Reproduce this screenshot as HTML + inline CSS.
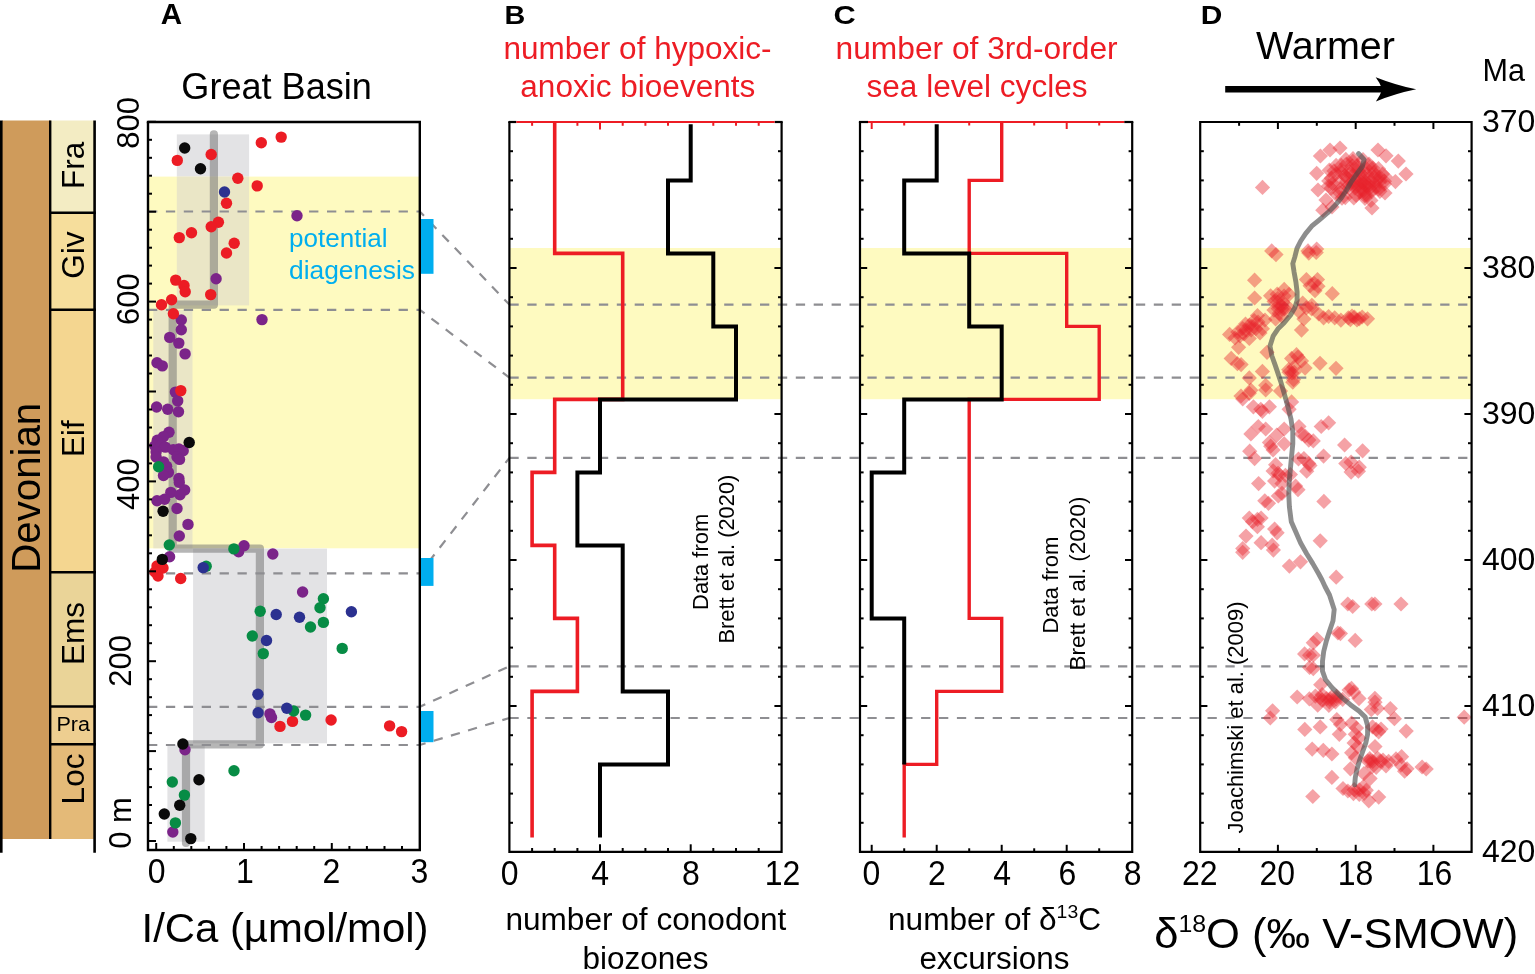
<!DOCTYPE html>
<html><head><meta charset="utf-8"><title>Figure</title>
<style>
html,body{margin:0;padding:0;background:#fff;}
body{width:1535px;height:974px;overflow:hidden;}
svg{display:block;font-family:'Liberation Sans', Arial, sans-serif;}
</style></head><body>
<svg width="1535" height="974" viewBox="0 0 1535 974">
<rect width="1535" height="974" fill="#fff"/>
<rect x="2" y="120.5" width="49" height="718.5" fill="#CF9B5B"/>
<rect x="50" y="120.5" width="44.5" height="92.2" fill="#F3ECC3"/>
<rect x="50" y="212.7" width="44.5" height="97.1" fill="#F6DE9C"/>
<rect x="50" y="309.8" width="44.5" height="262.5" fill="#F4D690"/>
<rect x="50" y="572.3" width="44.5" height="134.2" fill="#EAD498"/>
<rect x="50" y="706.5" width="44.5" height="37.8" fill="#EECE90"/>
<rect x="50" y="744.3" width="44.5" height="94.7" fill="#E4BA78"/>
<line x1="50" y1="212.7" x2="95.8" y2="212.7" stroke="#000" stroke-width="2.4"/>
<line x1="50" y1="309.8" x2="95.8" y2="309.8" stroke="#000" stroke-width="2.4"/>
<line x1="50" y1="572.3" x2="95.8" y2="572.3" stroke="#000" stroke-width="2.4"/>
<line x1="50" y1="706.5" x2="95.8" y2="706.5" stroke="#000" stroke-width="2.4"/>
<line x1="50" y1="744.3" x2="95.8" y2="744.3" stroke="#000" stroke-width="2.4"/>
<line x1="1.3" y1="120.5" x2="1.3" y2="852.8" stroke="#000" stroke-width="2.6"/>
<line x1="50.2" y1="120.5" x2="50.2" y2="839" stroke="#000" stroke-width="2.4"/>
<line x1="94.6" y1="120.5" x2="94.6" y2="852.8" stroke="#000" stroke-width="2.6"/>
<text transform="translate(83.8 165.3) rotate(-90)" font-size="31.5" text-anchor="middle">Fra</text>
<text transform="translate(83.8 255) rotate(-90)" font-size="31.5" text-anchor="middle">Giv</text>
<text transform="translate(83.8 438.7) rotate(-90)" font-size="31.5" text-anchor="middle">Eif</text>
<text transform="translate(83.8 633.4) rotate(-90)" font-size="31.5" text-anchor="middle">Ems</text>
<text transform="translate(83.8 779) rotate(-90)" font-size="31.5" text-anchor="middle">Loc</text>
<text x="73.2" y="731.3" font-size="19.5" text-anchor="middle" textLength="33.5" lengthAdjust="spacingAndGlyphs">Pra</text>
<text transform="translate(40.2 487.8) rotate(-90)" font-size="41.5" text-anchor="middle" textLength="170" lengthAdjust="spacingAndGlyphs">Devonian</text>
<text transform="translate(160.8 24.2) scale(1.02 1)" font-size="29" font-weight="bold">A</text>
<text transform="translate(504.6 24) scale(1.13 1)" font-size="25.5" font-weight="bold">B</text>
<text transform="translate(833.6 24) scale(1.16 1)" font-size="26.5" font-weight="bold">C</text>
<text transform="translate(1200.8 24.3) scale(1.15 1)" font-size="26" font-weight="bold">D</text>
<text x="276.6" y="98.9" font-size="36" text-anchor="middle" textLength="190.5" lengthAdjust="spacingAndGlyphs">Great Basin</text>
<text x="637.5" y="58.7" font-size="30.5" text-anchor="middle" fill="#ED1C24" textLength="268" lengthAdjust="spacingAndGlyphs">number of hypoxic-</text>
<text x="637.8" y="97.1" font-size="30.8" text-anchor="middle" fill="#ED1C24" textLength="235" lengthAdjust="spacingAndGlyphs">anoxic bioevents</text>
<text x="976.6" y="58.7" font-size="30.5" text-anchor="middle" fill="#ED1C24" textLength="282" lengthAdjust="spacingAndGlyphs">number of 3rd-order</text>
<text x="977" y="97.2" font-size="30.8" text-anchor="middle" fill="#ED1C24" textLength="221" lengthAdjust="spacingAndGlyphs">sea level cycles</text>
<text x="1325.5" y="58.9" font-size="38.5" text-anchor="middle" textLength="139" lengthAdjust="spacingAndGlyphs">Warmer</text>
<text x="1503.8" y="81" font-size="30.6" text-anchor="middle">Ma</text>
<line x1="1225.2" y1="89.2" x2="1392" y2="89.2" stroke="#000" stroke-width="6.5"/>
<path d="M1416.2 89.3 Q1396 85.2 1375.7 77.2 Q1380.5 83.5 1382.2 89.3 Q1380.5 95.2 1375.9 101.4 Q1396 93.4 1416.2 89.3 Z" fill="#000"/>
<rect x="148" y="176.6" width="271.8" height="371.7" fill="#FEFAC0"/>
<rect x="176.8" y="134.4" width="72.3" height="42.2" fill="#E3E3E5"/>
<rect x="176.8" y="176.6" width="72.3" height="128.8" fill="#EAE6C6"/>
<rect x="153.3" y="310" width="39.2" height="238.3" fill="#EAE6C6"/>
<rect x="193.1" y="548.6" width="133.9" height="194.7" fill="#E3E3E5"/>
<rect x="167.4" y="745.4" width="37.3" height="96.3" fill="#E3E3E5"/>
<path d="M213.9 134.4 V304.7 H172.7 V548.6 H259.9 V744.4 H186 V843" fill="none" stroke="#6E6E6E" stroke-opacity="0.5" stroke-width="8.2" stroke-linejoin="round" stroke-linecap="round"/>
<path d="M148 211.5 H419.8 L509.4 304.6" fill="none" stroke="#8E8E92" stroke-width="2.2" stroke-dasharray="9.3 8.6"/>
<path d="M148 309.8 H419.8 L509.4 377.7" fill="none" stroke="#8E8E92" stroke-width="2.2" stroke-dasharray="9.3 8.6"/>
<path d="M148 573.4 H419.8 L509.4 457.8" fill="none" stroke="#8E8E92" stroke-width="2.2" stroke-dasharray="9.3 8.6"/>
<path d="M148 706.8 H419.8 L509.4 666.3" fill="none" stroke="#8E8E92" stroke-width="2.2" stroke-dasharray="9.3 8.6"/>
<path d="M148 745 H419.8 L509.4 718" fill="none" stroke="#8E8E92" stroke-width="2.2" stroke-dasharray="9.3 8.6"/>
<rect x="421" y="219" width="12.5" height="54.8" fill="#00AEEF"/>
<rect x="421" y="558" width="12.5" height="27.9" fill="#00AEEF"/>
<rect x="421" y="711" width="12.5" height="31.2" fill="#00AEEF"/>
<text x="289" y="247.4" font-size="26.5" fill="#00AEEF" textLength="98.5" lengthAdjust="spacingAndGlyphs">potential</text>
<text x="289" y="279.1" font-size="26.5" fill="#00AEEF" textLength="126" lengthAdjust="spacingAndGlyphs">diagenesis</text>
<circle cx="297" cy="215.7" r="5.7" fill="#7B2489"/>
<circle cx="216.1" cy="278.7" r="5.7" fill="#7B2489"/>
<circle cx="181.3" cy="320" r="5.7" fill="#7B2489"/>
<circle cx="262" cy="319.6" r="5.7" fill="#7B2489"/>
<circle cx="181.3" cy="329.7" r="5.7" fill="#7B2489"/>
<circle cx="169.7" cy="337.4" r="5.7" fill="#7B2489"/>
<circle cx="178.8" cy="343.1" r="5.7" fill="#7B2489"/>
<circle cx="185.1" cy="353.9" r="5.7" fill="#7B2489"/>
<circle cx="157" cy="362.8" r="5.7" fill="#7B2489"/>
<circle cx="162.3" cy="365.9" r="5.7" fill="#7B2489"/>
<circle cx="175.4" cy="392.1" r="5.7" fill="#7B2489"/>
<circle cx="177.7" cy="400.9" r="5.7" fill="#7B2489"/>
<circle cx="156.6" cy="407" r="5.7" fill="#7B2489"/>
<circle cx="167.7" cy="409.3" r="5.7" fill="#7B2489"/>
<circle cx="178.5" cy="411.7" r="5.7" fill="#7B2489"/>
<circle cx="169" cy="432.3" r="5.7" fill="#7B2489"/>
<circle cx="163.5" cy="436.6" r="5.7" fill="#7B2489"/>
<circle cx="157.3" cy="440.3" r="5.7" fill="#7B2489"/>
<circle cx="154.9" cy="445.9" r="5.7" fill="#7B2489"/>
<circle cx="160.4" cy="445.9" r="5.7" fill="#7B2489"/>
<circle cx="165.3" cy="447.1" r="5.7" fill="#7B2489"/>
<circle cx="156.1" cy="452" r="5.7" fill="#7B2489"/>
<circle cx="156.1" cy="457" r="5.7" fill="#7B2489"/>
<circle cx="163.5" cy="461.9" r="5.7" fill="#7B2489"/>
<circle cx="166.6" cy="466.2" r="5.7" fill="#7B2489"/>
<circle cx="168.4" cy="472.4" r="5.7" fill="#7B2489"/>
<circle cx="163.5" cy="475.5" r="5.7" fill="#7B2489"/>
<circle cx="173.3" cy="449.6" r="5.7" fill="#7B2489"/>
<circle cx="178.9" cy="449" r="5.7" fill="#7B2489"/>
<circle cx="183.2" cy="450.8" r="5.7" fill="#7B2489"/>
<circle cx="177" cy="457" r="5.7" fill="#7B2489"/>
<circle cx="179.5" cy="459.4" r="5.7" fill="#7B2489"/>
<circle cx="178.9" cy="478.5" r="5.7" fill="#7B2489"/>
<circle cx="179.3" cy="482.4" r="5.7" fill="#7B2489"/>
<circle cx="184.7" cy="490" r="5.7" fill="#7B2489"/>
<circle cx="170.8" cy="492.4" r="5.7" fill="#7B2489"/>
<circle cx="180" cy="494.7" r="5.7" fill="#7B2489"/>
<circle cx="157" cy="500.8" r="5.7" fill="#7B2489"/>
<circle cx="164.6" cy="499.3" r="5.7" fill="#7B2489"/>
<circle cx="177" cy="508.5" r="5.7" fill="#7B2489"/>
<circle cx="188" cy="524.4" r="5.7" fill="#7B2489"/>
<circle cx="179.3" cy="536" r="5.7" fill="#7B2489"/>
<circle cx="169.6" cy="556.8" r="5.7" fill="#7B2489"/>
<circle cx="244" cy="545.8" r="5.7" fill="#7B2489"/>
<circle cx="238.6" cy="551.7" r="5.7" fill="#7B2489"/>
<circle cx="272.8" cy="554" r="5.7" fill="#7B2489"/>
<circle cx="302.6" cy="592" r="5.7" fill="#7B2489"/>
<circle cx="269.9" cy="713.9" r="5.7" fill="#7B2489"/>
<circle cx="271.5" cy="717.5" r="5.7" fill="#7B2489"/>
<circle cx="185" cy="749.7" r="5.7" fill="#7B2489"/>
<circle cx="172.8" cy="832" r="5.7" fill="#7B2489"/>
<circle cx="261.3" cy="142.8" r="5.7" fill="#EC1C24"/>
<circle cx="281.2" cy="137.1" r="5.7" fill="#EC1C24"/>
<circle cx="177.3" cy="160.4" r="5.7" fill="#EC1C24"/>
<circle cx="211.2" cy="154.5" r="5.7" fill="#EC1C24"/>
<circle cx="237.8" cy="178.2" r="5.7" fill="#EC1C24"/>
<circle cx="257.2" cy="185.9" r="5.7" fill="#EC1C24"/>
<circle cx="226.5" cy="203.3" r="5.7" fill="#EC1C24"/>
<circle cx="218.4" cy="222.3" r="5.7" fill="#EC1C24"/>
<circle cx="211.2" cy="226.8" r="5.7" fill="#EC1C24"/>
<circle cx="191.5" cy="232.7" r="5.7" fill="#EC1C24"/>
<circle cx="179.3" cy="237.6" r="5.7" fill="#EC1C24"/>
<circle cx="234.2" cy="243.3" r="5.7" fill="#EC1C24"/>
<circle cx="226.5" cy="253" r="5.7" fill="#EC1C24"/>
<circle cx="175.7" cy="280.1" r="5.7" fill="#EC1C24"/>
<circle cx="184" cy="285.5" r="5.7" fill="#EC1C24"/>
<circle cx="185.2" cy="291.8" r="5.7" fill="#EC1C24"/>
<circle cx="210.7" cy="294.6" r="5.7" fill="#EC1C24"/>
<circle cx="171.6" cy="299.7" r="5.7" fill="#EC1C24"/>
<circle cx="161.5" cy="304.7" r="5.7" fill="#EC1C24"/>
<circle cx="173.4" cy="313.7" r="5.7" fill="#EC1C24"/>
<circle cx="180.8" cy="390.6" r="5.7" fill="#EC1C24"/>
<circle cx="157" cy="566" r="5.7" fill="#EC1C24"/>
<circle cx="163" cy="568" r="5.7" fill="#EC1C24"/>
<circle cx="155" cy="572" r="5.7" fill="#EC1C24"/>
<circle cx="158" cy="576" r="5.7" fill="#EC1C24"/>
<circle cx="180.7" cy="578.5" r="5.7" fill="#EC1C24"/>
<circle cx="292.5" cy="721.4" r="5.7" fill="#EC1C24"/>
<circle cx="280" cy="726.4" r="5.7" fill="#EC1C24"/>
<circle cx="331.1" cy="720" r="5.7" fill="#EC1C24"/>
<circle cx="389.6" cy="725.9" r="5.7" fill="#EC1C24"/>
<circle cx="401.6" cy="731.6" r="5.7" fill="#EC1C24"/>
<circle cx="158.6" cy="466.8" r="5.7" fill="#078C45"/>
<circle cx="169.3" cy="545" r="5.7" fill="#078C45"/>
<circle cx="233.9" cy="548.9" r="5.7" fill="#078C45"/>
<circle cx="206.2" cy="566.3" r="5.7" fill="#078C45"/>
<circle cx="323.4" cy="598.7" r="5.7" fill="#078C45"/>
<circle cx="320" cy="607.8" r="5.7" fill="#078C45"/>
<circle cx="260.2" cy="611.2" r="5.7" fill="#078C45"/>
<circle cx="323.4" cy="622.4" r="5.7" fill="#078C45"/>
<circle cx="310.5" cy="627" r="5.7" fill="#078C45"/>
<circle cx="252.3" cy="636" r="5.7" fill="#078C45"/>
<circle cx="263.3" cy="653.6" r="5.7" fill="#078C45"/>
<circle cx="342.2" cy="648.4" r="5.7" fill="#078C45"/>
<circle cx="293.6" cy="711" r="5.7" fill="#078C45"/>
<circle cx="305.6" cy="715.1" r="5.7" fill="#078C45"/>
<circle cx="234" cy="770.8" r="5.7" fill="#078C45"/>
<circle cx="172.3" cy="782" r="5.7" fill="#078C45"/>
<circle cx="184.4" cy="795.1" r="5.7" fill="#078C45"/>
<circle cx="175.4" cy="822.9" r="5.7" fill="#078C45"/>
<circle cx="224.5" cy="192" r="5.7" fill="#2B3190"/>
<circle cx="203.2" cy="567.6" r="5.7" fill="#2B3190"/>
<circle cx="351.4" cy="611.8" r="5.7" fill="#2B3190"/>
<circle cx="276.2" cy="614.5" r="5.7" fill="#2B3190"/>
<circle cx="299.5" cy="617.3" r="5.7" fill="#2B3190"/>
<circle cx="266.5" cy="640.5" r="5.7" fill="#2B3190"/>
<circle cx="257.9" cy="694.3" r="5.7" fill="#2B3190"/>
<circle cx="258.1" cy="712.8" r="5.7" fill="#2B3190"/>
<circle cx="286.8" cy="708.3" r="5.7" fill="#2B3190"/>
<circle cx="184.7" cy="148" r="5.7" fill="#0A0A0A"/>
<circle cx="200.5" cy="168.7" r="5.7" fill="#0A0A0A"/>
<circle cx="189.2" cy="442.5" r="5.7" fill="#0A0A0A"/>
<circle cx="163.1" cy="511.2" r="5.7" fill="#0A0A0A"/>
<circle cx="162.3" cy="559.4" r="5.7" fill="#0A0A0A"/>
<circle cx="182.9" cy="744" r="5.7" fill="#0A0A0A"/>
<circle cx="199" cy="779.7" r="5.7" fill="#0A0A0A"/>
<circle cx="179.7" cy="805.2" r="5.7" fill="#0A0A0A"/>
<circle cx="164.3" cy="814" r="5.7" fill="#0A0A0A"/>
<circle cx="190.8" cy="838.6" r="5.7" fill="#0A0A0A"/>
<path d="M148 122 V850 H419.8 V122" fill="none" stroke="#000" stroke-width="2.4"/>
<line x1="146.8" y1="122" x2="421" y2="122" stroke="#000" stroke-width="2.4"/>
<line x1="148" y1="841" x2="156" y2="841" stroke="#000" stroke-width="2"/>
<line x1="148" y1="823" x2="152" y2="823" stroke="#000" stroke-width="2"/>
<line x1="148" y1="805" x2="152" y2="805" stroke="#000" stroke-width="2"/>
<line x1="148" y1="787.1" x2="152" y2="787.1" stroke="#000" stroke-width="2"/>
<line x1="148" y1="769.1" x2="152" y2="769.1" stroke="#000" stroke-width="2"/>
<line x1="148" y1="751.1" x2="156" y2="751.1" stroke="#000" stroke-width="2"/>
<line x1="148" y1="733.1" x2="152" y2="733.1" stroke="#000" stroke-width="2"/>
<line x1="148" y1="715.1" x2="152" y2="715.1" stroke="#000" stroke-width="2"/>
<line x1="148" y1="697.2" x2="152" y2="697.2" stroke="#000" stroke-width="2"/>
<line x1="148" y1="679.2" x2="152" y2="679.2" stroke="#000" stroke-width="2"/>
<line x1="148" y1="661.2" x2="156" y2="661.2" stroke="#000" stroke-width="2"/>
<line x1="148" y1="643.2" x2="152" y2="643.2" stroke="#000" stroke-width="2"/>
<line x1="148" y1="625.2" x2="152" y2="625.2" stroke="#000" stroke-width="2"/>
<line x1="148" y1="607.3" x2="152" y2="607.3" stroke="#000" stroke-width="2"/>
<line x1="148" y1="589.3" x2="152" y2="589.3" stroke="#000" stroke-width="2"/>
<line x1="148" y1="571.3" x2="156" y2="571.3" stroke="#000" stroke-width="2"/>
<line x1="148" y1="553.3" x2="152" y2="553.3" stroke="#000" stroke-width="2"/>
<line x1="148" y1="535.3" x2="152" y2="535.3" stroke="#000" stroke-width="2"/>
<line x1="148" y1="517.4" x2="152" y2="517.4" stroke="#000" stroke-width="2"/>
<line x1="148" y1="499.4" x2="152" y2="499.4" stroke="#000" stroke-width="2"/>
<line x1="148" y1="481.4" x2="156" y2="481.4" stroke="#000" stroke-width="2"/>
<line x1="148" y1="463.4" x2="152" y2="463.4" stroke="#000" stroke-width="2"/>
<line x1="148" y1="445.4" x2="152" y2="445.4" stroke="#000" stroke-width="2"/>
<line x1="148" y1="427.5" x2="152" y2="427.5" stroke="#000" stroke-width="2"/>
<line x1="148" y1="409.5" x2="152" y2="409.5" stroke="#000" stroke-width="2"/>
<line x1="148" y1="391.5" x2="156" y2="391.5" stroke="#000" stroke-width="2"/>
<line x1="148" y1="373.5" x2="152" y2="373.5" stroke="#000" stroke-width="2"/>
<line x1="148" y1="355.5" x2="152" y2="355.5" stroke="#000" stroke-width="2"/>
<line x1="148" y1="337.6" x2="152" y2="337.6" stroke="#000" stroke-width="2"/>
<line x1="148" y1="319.6" x2="152" y2="319.6" stroke="#000" stroke-width="2"/>
<line x1="148" y1="301.6" x2="156" y2="301.6" stroke="#000" stroke-width="2"/>
<line x1="148" y1="283.6" x2="152" y2="283.6" stroke="#000" stroke-width="2"/>
<line x1="148" y1="265.6" x2="152" y2="265.6" stroke="#000" stroke-width="2"/>
<line x1="148" y1="247.7" x2="152" y2="247.7" stroke="#000" stroke-width="2"/>
<line x1="148" y1="229.7" x2="152" y2="229.7" stroke="#000" stroke-width="2"/>
<line x1="148" y1="211.7" x2="156" y2="211.7" stroke="#000" stroke-width="2"/>
<line x1="148" y1="193.7" x2="152" y2="193.7" stroke="#000" stroke-width="2"/>
<line x1="148" y1="175.7" x2="152" y2="175.7" stroke="#000" stroke-width="2"/>
<line x1="148" y1="157.8" x2="152" y2="157.8" stroke="#000" stroke-width="2"/>
<line x1="148" y1="139.8" x2="152" y2="139.8" stroke="#000" stroke-width="2"/>
<line x1="148" y1="121.8" x2="156" y2="121.8" stroke="#000" stroke-width="2"/>
<line x1="156.2" y1="850" x2="156.2" y2="843" stroke="#000" stroke-width="2"/>
<line x1="173.8" y1="850" x2="173.8" y2="846" stroke="#000" stroke-width="2"/>
<line x1="191.3" y1="850" x2="191.3" y2="846" stroke="#000" stroke-width="2"/>
<line x1="208.9" y1="850" x2="208.9" y2="846" stroke="#000" stroke-width="2"/>
<line x1="226.4" y1="850" x2="226.4" y2="846" stroke="#000" stroke-width="2"/>
<line x1="244" y1="850" x2="244" y2="843" stroke="#000" stroke-width="2"/>
<line x1="261.6" y1="850" x2="261.6" y2="846" stroke="#000" stroke-width="2"/>
<line x1="279.1" y1="850" x2="279.1" y2="846" stroke="#000" stroke-width="2"/>
<line x1="296.7" y1="850" x2="296.7" y2="846" stroke="#000" stroke-width="2"/>
<line x1="314.2" y1="850" x2="314.2" y2="846" stroke="#000" stroke-width="2"/>
<line x1="331.8" y1="850" x2="331.8" y2="843" stroke="#000" stroke-width="2"/>
<line x1="349.4" y1="850" x2="349.4" y2="846" stroke="#000" stroke-width="2"/>
<line x1="366.9" y1="850" x2="366.9" y2="846" stroke="#000" stroke-width="2"/>
<line x1="384.5" y1="850" x2="384.5" y2="846" stroke="#000" stroke-width="2"/>
<line x1="402" y1="850" x2="402" y2="846" stroke="#000" stroke-width="2"/>
<text transform="translate(138.7 122.9) rotate(-90)" font-size="31" text-anchor="middle">800</text>
<text transform="translate(138.8 299.2) rotate(-90)" font-size="31" text-anchor="middle">600</text>
<text transform="translate(138.8 484.1) rotate(-90)" font-size="31" text-anchor="middle">400</text>
<text transform="translate(130.9 660.9) rotate(-90)" font-size="31" text-anchor="middle">200</text>
<text transform="translate(130.8 823) rotate(-90)" font-size="31" text-anchor="middle">0 m</text>
<text transform="translate(156.6 882.6) scale(1 1.08)" font-size="32" text-anchor="middle">0</text>
<text transform="translate(244.8 882.6) scale(1 1.08)" font-size="32" text-anchor="middle">1</text>
<text transform="translate(331.5 882.6) scale(1 1.08)" font-size="32" text-anchor="middle">2</text>
<text transform="translate(419.4 882.6) scale(1 1.08)" font-size="32" text-anchor="middle">3</text>
<text x="285" y="941.6" font-size="41.5" text-anchor="middle" textLength="287" lengthAdjust="spacingAndGlyphs">I/Ca (µmol/mol)</text>
<rect x="509.4" y="248" width="272.2" height="151.2" fill="#FEFAC0"/>
<rect x="860" y="248" width="272.2" height="151.2" fill="#FEFAC0"/>
<rect x="1200.2" y="248" width="271.4" height="151.2" fill="#FEFAC0"/>
<path d="M509.4 304.6 H1471.6" fill="none" stroke="#8E8E92" stroke-width="2.2" stroke-dasharray="9.3 8.6"/>
<path d="M509.4 377.7 H1471.6" fill="none" stroke="#8E8E92" stroke-width="2.2" stroke-dasharray="9.3 8.6"/>
<path d="M509.4 457.8 H1471.6" fill="none" stroke="#8E8E92" stroke-width="2.2" stroke-dasharray="9.3 8.6"/>
<path d="M509.4 666.3 H1471.6" fill="none" stroke="#8E8E92" stroke-width="2.2" stroke-dasharray="9.3 8.6"/>
<path d="M509.4 718 H1471.6" fill="none" stroke="#8E8E92" stroke-width="2.2" stroke-dasharray="9.3 8.6"/>
<path d="M554.7 122 V180.4 H554.7 V253.4 H622.7 V326.4 H622.7 V399.4 H554.7 V472.4 H532.1 V545.4 H554.7 V618.4 H577.4 V691.4 H532.1 V764.4 H532.1 V837.4" fill="none" stroke="#ED1C24" stroke-width="3.6" stroke-linejoin="miter"/>
<path d="M690.7 124.2 V180.4 H668 V253.4 H713.3 V326.4 H736 V399.4 H600 V472.4 H577.4 V545.4 H622.7 V618.4 H622.7 V691.4 H668 V764.4 H600 V837.4" fill="none" stroke="#000" stroke-width="4" stroke-linejoin="miter"/>
<path d="M509.4 122 V851.8 H781.6 V122" fill="none" stroke="#000" stroke-width="2.2"/>
<line x1="508.3" y1="122" x2="516.4" y2="122" stroke="#000" stroke-width="2.2"/>
<line x1="774.6" y1="122" x2="782.7" y2="122" stroke="#000" stroke-width="2.2"/>
<line x1="516.4" y1="122" x2="774.6" y2="122" stroke="#ED1C24" stroke-width="2.2"/>
<line x1="509.4" y1="151.2" x2="513" y2="151.2" stroke="#000" stroke-width="2"/>
<line x1="781.6" y1="151.2" x2="778" y2="151.2" stroke="#000" stroke-width="2"/>
<line x1="509.4" y1="180.4" x2="513" y2="180.4" stroke="#000" stroke-width="2"/>
<line x1="781.6" y1="180.4" x2="778" y2="180.4" stroke="#000" stroke-width="2"/>
<line x1="509.4" y1="209.6" x2="513" y2="209.6" stroke="#000" stroke-width="2"/>
<line x1="781.6" y1="209.6" x2="778" y2="209.6" stroke="#000" stroke-width="2"/>
<line x1="509.4" y1="238.8" x2="513" y2="238.8" stroke="#000" stroke-width="2"/>
<line x1="781.6" y1="238.8" x2="778" y2="238.8" stroke="#000" stroke-width="2"/>
<line x1="509.4" y1="268" x2="516.6" y2="268" stroke="#000" stroke-width="2"/>
<line x1="781.6" y1="268" x2="774.4" y2="268" stroke="#000" stroke-width="2"/>
<line x1="509.4" y1="297.2" x2="513" y2="297.2" stroke="#000" stroke-width="2"/>
<line x1="781.6" y1="297.2" x2="778" y2="297.2" stroke="#000" stroke-width="2"/>
<line x1="509.4" y1="326.4" x2="513" y2="326.4" stroke="#000" stroke-width="2"/>
<line x1="781.6" y1="326.4" x2="778" y2="326.4" stroke="#000" stroke-width="2"/>
<line x1="509.4" y1="355.6" x2="513" y2="355.6" stroke="#000" stroke-width="2"/>
<line x1="781.6" y1="355.6" x2="778" y2="355.6" stroke="#000" stroke-width="2"/>
<line x1="509.4" y1="384.8" x2="513" y2="384.8" stroke="#000" stroke-width="2"/>
<line x1="781.6" y1="384.8" x2="778" y2="384.8" stroke="#000" stroke-width="2"/>
<line x1="509.4" y1="414" x2="516.6" y2="414" stroke="#000" stroke-width="2"/>
<line x1="781.6" y1="414" x2="774.4" y2="414" stroke="#000" stroke-width="2"/>
<line x1="509.4" y1="443.2" x2="513" y2="443.2" stroke="#000" stroke-width="2"/>
<line x1="781.6" y1="443.2" x2="778" y2="443.2" stroke="#000" stroke-width="2"/>
<line x1="509.4" y1="472.4" x2="513" y2="472.4" stroke="#000" stroke-width="2"/>
<line x1="781.6" y1="472.4" x2="778" y2="472.4" stroke="#000" stroke-width="2"/>
<line x1="509.4" y1="501.6" x2="513" y2="501.6" stroke="#000" stroke-width="2"/>
<line x1="781.6" y1="501.6" x2="778" y2="501.6" stroke="#000" stroke-width="2"/>
<line x1="509.4" y1="530.8" x2="513" y2="530.8" stroke="#000" stroke-width="2"/>
<line x1="781.6" y1="530.8" x2="778" y2="530.8" stroke="#000" stroke-width="2"/>
<line x1="509.4" y1="560" x2="516.6" y2="560" stroke="#000" stroke-width="2"/>
<line x1="781.6" y1="560" x2="774.4" y2="560" stroke="#000" stroke-width="2"/>
<line x1="509.4" y1="589.2" x2="513" y2="589.2" stroke="#000" stroke-width="2"/>
<line x1="781.6" y1="589.2" x2="778" y2="589.2" stroke="#000" stroke-width="2"/>
<line x1="509.4" y1="618.4" x2="513" y2="618.4" stroke="#000" stroke-width="2"/>
<line x1="781.6" y1="618.4" x2="778" y2="618.4" stroke="#000" stroke-width="2"/>
<line x1="509.4" y1="647.6" x2="513" y2="647.6" stroke="#000" stroke-width="2"/>
<line x1="781.6" y1="647.6" x2="778" y2="647.6" stroke="#000" stroke-width="2"/>
<line x1="509.4" y1="676.8" x2="513" y2="676.8" stroke="#000" stroke-width="2"/>
<line x1="781.6" y1="676.8" x2="778" y2="676.8" stroke="#000" stroke-width="2"/>
<line x1="509.4" y1="706" x2="516.6" y2="706" stroke="#000" stroke-width="2"/>
<line x1="781.6" y1="706" x2="774.4" y2="706" stroke="#000" stroke-width="2"/>
<line x1="509.4" y1="735.2" x2="513" y2="735.2" stroke="#000" stroke-width="2"/>
<line x1="781.6" y1="735.2" x2="778" y2="735.2" stroke="#000" stroke-width="2"/>
<line x1="509.4" y1="764.4" x2="513" y2="764.4" stroke="#000" stroke-width="2"/>
<line x1="781.6" y1="764.4" x2="778" y2="764.4" stroke="#000" stroke-width="2"/>
<line x1="509.4" y1="793.6" x2="513" y2="793.6" stroke="#000" stroke-width="2"/>
<line x1="781.6" y1="793.6" x2="778" y2="793.6" stroke="#000" stroke-width="2"/>
<line x1="509.4" y1="822.8" x2="513" y2="822.8" stroke="#000" stroke-width="2"/>
<line x1="781.6" y1="822.8" x2="778" y2="822.8" stroke="#000" stroke-width="2"/>
<line x1="532.1" y1="122" x2="532.1" y2="125.8" stroke="#ED1C24" stroke-width="2"/>
<line x1="532.1" y1="851.8" x2="532.1" y2="848" stroke="#000" stroke-width="2"/>
<line x1="554.7" y1="122" x2="554.7" y2="125.8" stroke="#ED1C24" stroke-width="2"/>
<line x1="554.7" y1="851.8" x2="554.7" y2="848" stroke="#000" stroke-width="2"/>
<line x1="577.4" y1="122" x2="577.4" y2="125.8" stroke="#ED1C24" stroke-width="2"/>
<line x1="577.4" y1="851.8" x2="577.4" y2="848" stroke="#000" stroke-width="2"/>
<line x1="600" y1="122" x2="600" y2="129.5" stroke="#ED1C24" stroke-width="2"/>
<line x1="600" y1="851.8" x2="600" y2="844.3" stroke="#000" stroke-width="2"/>
<line x1="622.7" y1="122" x2="622.7" y2="125.8" stroke="#ED1C24" stroke-width="2"/>
<line x1="622.7" y1="851.8" x2="622.7" y2="848" stroke="#000" stroke-width="2"/>
<line x1="645.4" y1="122" x2="645.4" y2="125.8" stroke="#ED1C24" stroke-width="2"/>
<line x1="645.4" y1="851.8" x2="645.4" y2="848" stroke="#000" stroke-width="2"/>
<line x1="668" y1="122" x2="668" y2="125.8" stroke="#ED1C24" stroke-width="2"/>
<line x1="668" y1="851.8" x2="668" y2="848" stroke="#000" stroke-width="2"/>
<line x1="690.7" y1="851.8" x2="690.7" y2="844.3" stroke="#000" stroke-width="2"/>
<line x1="713.3" y1="122" x2="713.3" y2="125.8" stroke="#ED1C24" stroke-width="2"/>
<line x1="713.3" y1="851.8" x2="713.3" y2="848" stroke="#000" stroke-width="2"/>
<line x1="736" y1="122" x2="736" y2="125.8" stroke="#ED1C24" stroke-width="2"/>
<line x1="736" y1="851.8" x2="736" y2="848" stroke="#000" stroke-width="2"/>
<line x1="758.7" y1="122" x2="758.7" y2="125.8" stroke="#ED1C24" stroke-width="2"/>
<line x1="758.7" y1="851.8" x2="758.7" y2="848" stroke="#000" stroke-width="2"/>
<text transform="translate(509.7 884.5) scale(1 1.07)" font-size="32" text-anchor="middle">0</text>
<text transform="translate(600.1 884.5) scale(1 1.07)" font-size="32" text-anchor="middle">4</text>
<text transform="translate(691 884.5) scale(1 1.07)" font-size="32" text-anchor="middle">8</text>
<text transform="translate(782.6 884.5) scale(1 1.07)" font-size="32" text-anchor="middle">12</text>
<text x="645.9" y="930.2" font-size="31" text-anchor="middle" textLength="281" lengthAdjust="spacingAndGlyphs">number of conodont</text>
<text x="645.6" y="968.5" font-size="31" text-anchor="middle" textLength="126" lengthAdjust="spacingAndGlyphs">biozones</text>
<text transform="translate(707.5 561.9) rotate(-90)" font-size="22" text-anchor="middle" textLength="96" lengthAdjust="spacingAndGlyphs">Data from</text>
<text transform="translate(734.3 559.1) rotate(-90)" font-size="22" text-anchor="middle" textLength="169" lengthAdjust="spacingAndGlyphs">Brett et al.  (2020)</text>
<path d="M1001.7 122 V180.4 H969.2 V253.4 H1066.7 V326.4 H1099.2 V399.4 H969.2 V472.4 H969.2 V545.4 H969.2 V618.4 H1001.7 V691.4 H936.7 V764.4 H904.2 V837.4" fill="none" stroke="#ED1C24" stroke-width="3.4" stroke-linejoin="miter"/>
<path d="M936.7 124.2 V180.4 H904.2 V253.4 H969.2 V326.4 H1001.7 V399.4 H904.2 V472.4 H871.7 V545.4 H871.7 V618.4 H904.2 V691.4 H904.2 V764.4" fill="none" stroke="#000" stroke-width="4" stroke-linejoin="miter"/>
<path d="M860 122 V851.8 H1132.2 V122" fill="none" stroke="#000" stroke-width="2.2"/>
<line x1="858.9" y1="122" x2="868" y2="122" stroke="#000" stroke-width="2.2"/>
<line x1="1124.2" y1="122" x2="1133.3" y2="122" stroke="#000" stroke-width="2.2"/>
<line x1="868" y1="122" x2="1124.2" y2="122" stroke="#ED1C24" stroke-width="2.2"/>
<line x1="860" y1="151.2" x2="863.6" y2="151.2" stroke="#000" stroke-width="2"/>
<line x1="1132.2" y1="151.2" x2="1128.6" y2="151.2" stroke="#000" stroke-width="2"/>
<line x1="860" y1="180.4" x2="863.6" y2="180.4" stroke="#000" stroke-width="2"/>
<line x1="1132.2" y1="180.4" x2="1128.6" y2="180.4" stroke="#000" stroke-width="2"/>
<line x1="860" y1="209.6" x2="863.6" y2="209.6" stroke="#000" stroke-width="2"/>
<line x1="1132.2" y1="209.6" x2="1128.6" y2="209.6" stroke="#000" stroke-width="2"/>
<line x1="860" y1="238.8" x2="863.6" y2="238.8" stroke="#000" stroke-width="2"/>
<line x1="1132.2" y1="238.8" x2="1128.6" y2="238.8" stroke="#000" stroke-width="2"/>
<line x1="860" y1="268" x2="867.2" y2="268" stroke="#000" stroke-width="2"/>
<line x1="1132.2" y1="268" x2="1125" y2="268" stroke="#000" stroke-width="2"/>
<line x1="860" y1="297.2" x2="863.6" y2="297.2" stroke="#000" stroke-width="2"/>
<line x1="1132.2" y1="297.2" x2="1128.6" y2="297.2" stroke="#000" stroke-width="2"/>
<line x1="860" y1="326.4" x2="863.6" y2="326.4" stroke="#000" stroke-width="2"/>
<line x1="1132.2" y1="326.4" x2="1128.6" y2="326.4" stroke="#000" stroke-width="2"/>
<line x1="860" y1="355.6" x2="863.6" y2="355.6" stroke="#000" stroke-width="2"/>
<line x1="1132.2" y1="355.6" x2="1128.6" y2="355.6" stroke="#000" stroke-width="2"/>
<line x1="860" y1="384.8" x2="863.6" y2="384.8" stroke="#000" stroke-width="2"/>
<line x1="1132.2" y1="384.8" x2="1128.6" y2="384.8" stroke="#000" stroke-width="2"/>
<line x1="860" y1="414" x2="867.2" y2="414" stroke="#000" stroke-width="2"/>
<line x1="1132.2" y1="414" x2="1125" y2="414" stroke="#000" stroke-width="2"/>
<line x1="860" y1="443.2" x2="863.6" y2="443.2" stroke="#000" stroke-width="2"/>
<line x1="1132.2" y1="443.2" x2="1128.6" y2="443.2" stroke="#000" stroke-width="2"/>
<line x1="860" y1="472.4" x2="863.6" y2="472.4" stroke="#000" stroke-width="2"/>
<line x1="1132.2" y1="472.4" x2="1128.6" y2="472.4" stroke="#000" stroke-width="2"/>
<line x1="860" y1="501.6" x2="863.6" y2="501.6" stroke="#000" stroke-width="2"/>
<line x1="1132.2" y1="501.6" x2="1128.6" y2="501.6" stroke="#000" stroke-width="2"/>
<line x1="860" y1="530.8" x2="863.6" y2="530.8" stroke="#000" stroke-width="2"/>
<line x1="1132.2" y1="530.8" x2="1128.6" y2="530.8" stroke="#000" stroke-width="2"/>
<line x1="860" y1="560" x2="867.2" y2="560" stroke="#000" stroke-width="2"/>
<line x1="1132.2" y1="560" x2="1125" y2="560" stroke="#000" stroke-width="2"/>
<line x1="860" y1="589.2" x2="863.6" y2="589.2" stroke="#000" stroke-width="2"/>
<line x1="1132.2" y1="589.2" x2="1128.6" y2="589.2" stroke="#000" stroke-width="2"/>
<line x1="860" y1="618.4" x2="863.6" y2="618.4" stroke="#000" stroke-width="2"/>
<line x1="1132.2" y1="618.4" x2="1128.6" y2="618.4" stroke="#000" stroke-width="2"/>
<line x1="860" y1="647.6" x2="863.6" y2="647.6" stroke="#000" stroke-width="2"/>
<line x1="1132.2" y1="647.6" x2="1128.6" y2="647.6" stroke="#000" stroke-width="2"/>
<line x1="860" y1="676.8" x2="863.6" y2="676.8" stroke="#000" stroke-width="2"/>
<line x1="1132.2" y1="676.8" x2="1128.6" y2="676.8" stroke="#000" stroke-width="2"/>
<line x1="860" y1="706" x2="867.2" y2="706" stroke="#000" stroke-width="2"/>
<line x1="1132.2" y1="706" x2="1125" y2="706" stroke="#000" stroke-width="2"/>
<line x1="860" y1="735.2" x2="863.6" y2="735.2" stroke="#000" stroke-width="2"/>
<line x1="1132.2" y1="735.2" x2="1128.6" y2="735.2" stroke="#000" stroke-width="2"/>
<line x1="860" y1="764.4" x2="863.6" y2="764.4" stroke="#000" stroke-width="2"/>
<line x1="1132.2" y1="764.4" x2="1128.6" y2="764.4" stroke="#000" stroke-width="2"/>
<line x1="860" y1="793.6" x2="863.6" y2="793.6" stroke="#000" stroke-width="2"/>
<line x1="1132.2" y1="793.6" x2="1128.6" y2="793.6" stroke="#000" stroke-width="2"/>
<line x1="860" y1="822.8" x2="863.6" y2="822.8" stroke="#000" stroke-width="2"/>
<line x1="1132.2" y1="822.8" x2="1128.6" y2="822.8" stroke="#000" stroke-width="2"/>
<line x1="871.7" y1="122" x2="871.7" y2="129" stroke="#ED1C24" stroke-width="2"/>
<line x1="871.7" y1="851.8" x2="871.7" y2="844.8" stroke="#000" stroke-width="2"/>
<line x1="904.2" y1="122" x2="904.2" y2="125.5" stroke="#ED1C24" stroke-width="2"/>
<line x1="904.2" y1="851.8" x2="904.2" y2="848.3" stroke="#000" stroke-width="2"/>
<line x1="936.7" y1="851.8" x2="936.7" y2="844.8" stroke="#000" stroke-width="2"/>
<line x1="969.2" y1="122" x2="969.2" y2="125.5" stroke="#ED1C24" stroke-width="2"/>
<line x1="969.2" y1="851.8" x2="969.2" y2="848.3" stroke="#000" stroke-width="2"/>
<line x1="1001.7" y1="122" x2="1001.7" y2="129" stroke="#ED1C24" stroke-width="2"/>
<line x1="1001.7" y1="851.8" x2="1001.7" y2="844.8" stroke="#000" stroke-width="2"/>
<line x1="1034.2" y1="122" x2="1034.2" y2="125.5" stroke="#ED1C24" stroke-width="2"/>
<line x1="1034.2" y1="851.8" x2="1034.2" y2="848.3" stroke="#000" stroke-width="2"/>
<line x1="1066.7" y1="122" x2="1066.7" y2="129" stroke="#ED1C24" stroke-width="2"/>
<line x1="1066.7" y1="851.8" x2="1066.7" y2="844.8" stroke="#000" stroke-width="2"/>
<line x1="1099.2" y1="122" x2="1099.2" y2="125.5" stroke="#ED1C24" stroke-width="2"/>
<line x1="1099.2" y1="851.8" x2="1099.2" y2="848.3" stroke="#000" stroke-width="2"/>
<text transform="translate(871.4 884.5) scale(1 1.07)" font-size="32" text-anchor="middle">0</text>
<text transform="translate(937 884.5) scale(1 1.07)" font-size="32" text-anchor="middle">2</text>
<text transform="translate(1002.2 884.5) scale(1 1.07)" font-size="32" text-anchor="middle">4</text>
<text transform="translate(1067.3 884.5) scale(1 1.07)" font-size="32" text-anchor="middle">6</text>
<text transform="translate(1132.6 884.5) scale(1 1.07)" font-size="32" text-anchor="middle">8</text>
<text x="994.5" y="930.1" font-size="31" text-anchor="middle" textLength="213" lengthAdjust="spacingAndGlyphs">number of δ<tspan font-size="19" dy="-12">13</tspan><tspan dy="12">C</tspan></text>
<text x="994.4" y="968.7" font-size="31" text-anchor="middle" textLength="150" lengthAdjust="spacingAndGlyphs">excursions</text>
<text transform="translate(1058.2 585.1) rotate(-90)" font-size="22" text-anchor="middle" textLength="97" lengthAdjust="spacingAndGlyphs">Data from</text>
<text transform="translate(1085 583.6) rotate(-90)" font-size="22" text-anchor="middle" textLength="174" lengthAdjust="spacingAndGlyphs">Brett et al. (2020)</text>
<g fill="#E8222B" fill-opacity="0.42">
<path d="M1320.4 148.4l7.6 7.6l-7.6 7.6l-7.6 -7.6z"/>
<path d="M1316.7 165.7l7.6 7.6l-7.6 7.6l-7.6 -7.6z"/>
<path d="M1262.5 179.8l7.6 7.6l-7.6 7.6l-7.6 -7.6z"/>
<path d="M1370.9 192.8l7.6 7.6l-7.6 7.6l-7.6 -7.6z"/>
<path d="M1322.8 202.6l7.6 7.6l-7.6 7.6l-7.6 -7.6z"/>
<path d="M1386 148.2l7.6 7.6l-7.6 7.6l-7.6 -7.6z"/>
<path d="M1398.3 153.5l7.6 7.6l-7.6 7.6l-7.6 -7.6z"/>
<path d="M1406 166.4l7.6 7.6l-7.6 7.6l-7.6 -7.6z"/>
<path d="M1395.4 174l7.6 7.6l-7.6 7.6l-7.6 -7.6z"/>
<path d="M1318 182.4l7.6 7.6l-7.6 7.6l-7.6 -7.6z"/>
<path d="M1326 192.4l7.6 7.6l-7.6 7.6l-7.6 -7.6z"/>
<path d="M1330 142.4l7.6 7.6l-7.6 7.6l-7.6 -7.6z"/>
<path d="M1340 140.4l7.6 7.6l-7.6 7.6l-7.6 -7.6z"/>
<path d="M1378 142.4l7.6 7.6l-7.6 7.6l-7.6 -7.6z"/>
<path d="M1385 185.4l7.6 7.6l-7.6 7.6l-7.6 -7.6z"/>
<path d="M1372 200.4l7.6 7.6l-7.6 7.6l-7.6 -7.6z"/>
<path d="M1332 199.4l7.6 7.6l-7.6 7.6l-7.6 -7.6z"/>
<path d="M1271.7 243.3l7.6 7.6l-7.6 7.6l-7.6 -7.6z"/>
<path d="M1276 247l7.6 7.6l-7.6 7.6l-7.6 -7.6z"/>
<path d="M1308 243.3l7.6 7.6l-7.6 7.6l-7.6 -7.6z"/>
<path d="M1316.7 241.4l7.6 7.6l-7.6 7.6l-7.6 -7.6z"/>
<path d="M1308.8 245.5l7.6 7.6l-7.6 7.6l-7.6 -7.6z"/>
<path d="M1316.2 244.9l7.6 7.6l-7.6 7.6l-7.6 -7.6z"/>
<path d="M1254.6 272.6l7.6 7.6l-7.6 7.6l-7.6 -7.6z"/>
<path d="M1306.4 272l7.6 7.6l-7.6 7.6l-7.6 -7.6z"/>
<path d="M1317.5 272l7.6 7.6l-7.6 7.6l-7.6 -7.6z"/>
<path d="M1310.1 278.1l7.6 7.6l-7.6 7.6l-7.6 -7.6z"/>
<path d="M1315 283.1l7.6 7.6l-7.6 7.6l-7.6 -7.6z"/>
<path d="M1332.3 286.1l7.6 7.6l-7.6 7.6l-7.6 -7.6z"/>
<path d="M1254.6 290.4l7.6 7.6l-7.6 7.6l-7.6 -7.6z"/>
<path d="M1284.2 281.8l7.6 7.6l-7.6 7.6l-7.6 -7.6z"/>
<path d="M1289.1 286.8l7.6 7.6l-7.6 7.6l-7.6 -7.6z"/>
<path d="M1270.6 288.2l7.6 7.6l-7.6 7.6l-7.6 -7.6z"/>
<path d="M1277.2 286.6l7.6 7.6l-7.6 7.6l-7.6 -7.6z"/>
<path d="M1302.7 295.4l7.6 7.6l-7.6 7.6l-7.6 -7.6z"/>
<path d="M1306.4 300.3l7.6 7.6l-7.6 7.6l-7.6 -7.6z"/>
<path d="M1299 304l7.6 7.6l-7.6 7.6l-7.6 -7.6z"/>
<path d="M1303.9 311.4l7.6 7.6l-7.6 7.6l-7.6 -7.6z"/>
<path d="M1318.7 306.4l7.6 7.6l-7.6 7.6l-7.6 -7.6z"/>
<path d="M1323.6 310.2l7.6 7.6l-7.6 7.6l-7.6 -7.6z"/>
<path d="M1328.6 308.9l7.6 7.6l-7.6 7.6l-7.6 -7.6z"/>
<path d="M1334.7 310.2l7.6 7.6l-7.6 7.6l-7.6 -7.6z"/>
<path d="M1340.9 312.6l7.6 7.6l-7.6 7.6l-7.6 -7.6z"/>
<path d="M1348.3 310.2l7.6 7.6l-7.6 7.6l-7.6 -7.6z"/>
<path d="M1354.4 309.6l7.6 7.6l-7.6 7.6l-7.6 -7.6z"/>
<path d="M1359.3 311.2l7.6 7.6l-7.6 7.6l-7.6 -7.6z"/>
<path d="M1367.5 311.2l7.6 7.6l-7.6 7.6l-7.6 -7.6z"/>
<path d="M1352 308.4l7.6 7.6l-7.6 7.6l-7.6 -7.6z"/>
<path d="M1357 312.4l7.6 7.6l-7.6 7.6l-7.6 -7.6z"/>
<path d="M1257.5 307.9l7.6 7.6l-7.6 7.6l-7.6 -7.6z"/>
<path d="M1254.2 312.9l7.6 7.6l-7.6 7.6l-7.6 -7.6z"/>
<path d="M1249.3 317.8l7.6 7.6l-7.6 7.6l-7.6 -7.6z"/>
<path d="M1242.7 321.1l7.6 7.6l-7.6 7.6l-7.6 -7.6z"/>
<path d="M1237.8 324.4l7.6 7.6l-7.6 7.6l-7.6 -7.6z"/>
<path d="M1229.6 326.8l7.6 7.6l-7.6 7.6l-7.6 -7.6z"/>
<path d="M1255.8 321.1l7.6 7.6l-7.6 7.6l-7.6 -7.6z"/>
<path d="M1262.4 321.1l7.6 7.6l-7.6 7.6l-7.6 -7.6z"/>
<path d="M1249.3 330.9l7.6 7.6l-7.6 7.6l-7.6 -7.6z"/>
<path d="M1260 325.4l7.6 7.6l-7.6 7.6l-7.6 -7.6z"/>
<path d="M1246 322.4l7.6 7.6l-7.6 7.6l-7.6 -7.6z"/>
<path d="M1252 318.4l7.6 7.6l-7.6 7.6l-7.6 -7.6z"/>
<path d="M1265 312.4l7.6 7.6l-7.6 7.6l-7.6 -7.6z"/>
<path d="M1240 328.4l7.6 7.6l-7.6 7.6l-7.6 -7.6z"/>
<path d="M1235 330.4l7.6 7.6l-7.6 7.6l-7.6 -7.6z"/>
<path d="M1244 326.4l7.6 7.6l-7.6 7.6l-7.6 -7.6z"/>
<path d="M1258 314.4l7.6 7.6l-7.6 7.6l-7.6 -7.6z"/>
<path d="M1301.5 322.5l7.6 7.6l-7.6 7.6l-7.6 -7.6z"/>
<path d="M1238.6 339.7l7.6 7.6l-7.6 7.6l-7.6 -7.6z"/>
<path d="M1267 344.7l7.6 7.6l-7.6 7.6l-7.6 -7.6z"/>
<path d="M1231.2 350.8l7.6 7.6l-7.6 7.6l-7.6 -7.6z"/>
<path d="M1241.1 357l7.6 7.6l-7.6 7.6l-7.6 -7.6z"/>
<path d="M1291.6 350.8l7.6 7.6l-7.6 7.6l-7.6 -7.6z"/>
<path d="M1296.5 347.1l7.6 7.6l-7.6 7.6l-7.6 -7.6z"/>
<path d="M1301.5 353.3l7.6 7.6l-7.6 7.6l-7.6 -7.6z"/>
<path d="M1294.1 359.4l7.6 7.6l-7.6 7.6l-7.6 -7.6z"/>
<path d="M1320 355.7l7.6 7.6l-7.6 7.6l-7.6 -7.6z"/>
<path d="M1336 360.7l7.6 7.6l-7.6 7.6l-7.6 -7.6z"/>
<path d="M1262.4 363.8l7.6 7.6l-7.6 7.6l-7.6 -7.6z"/>
<path d="M1249.3 370.3l7.6 7.6l-7.6 7.6l-7.6 -7.6z"/>
<path d="M1265.7 377.7l7.6 7.6l-7.6 7.6l-7.6 -7.6z"/>
<path d="M1250.9 382.6l7.6 7.6l-7.6 7.6l-7.6 -7.6z"/>
<path d="M1241 388.4l7.6 7.6l-7.6 7.6l-7.6 -7.6z"/>
<path d="M1280.5 383.4l7.6 7.6l-7.6 7.6l-7.6 -7.6z"/>
<path d="M1288.7 362.1l7.6 7.6l-7.6 7.6l-7.6 -7.6z"/>
<path d="M1292 365.4l7.6 7.6l-7.6 7.6l-7.6 -7.6z"/>
<path d="M1305.1 360.5l7.6 7.6l-7.6 7.6l-7.6 -7.6z"/>
<path d="M1293.6 372l7.6 7.6l-7.6 7.6l-7.6 -7.6z"/>
<path d="M1237.4 356.1l7.6 7.6l-7.6 7.6l-7.6 -7.6z"/>
<path d="M1289.1 364.7l7.6 7.6l-7.6 7.6l-7.6 -7.6z"/>
<path d="M1294.1 364.7l7.6 7.6l-7.6 7.6l-7.6 -7.6z"/>
<path d="M1292.8 374.6l7.6 7.6l-7.6 7.6l-7.6 -7.6z"/>
<path d="M1298 349.4l7.6 7.6l-7.6 7.6l-7.6 -7.6z"/>
<path d="M1291.6 394.3l7.6 7.6l-7.6 7.6l-7.6 -7.6z"/>
<path d="M1253.4 399.2l7.6 7.6l-7.6 7.6l-7.6 -7.6z"/>
<path d="M1260.8 401.7l7.6 7.6l-7.6 7.6l-7.6 -7.6z"/>
<path d="M1269.4 399.2l7.6 7.6l-7.6 7.6l-7.6 -7.6z"/>
<path d="M1289.1 401.7l7.6 7.6l-7.6 7.6l-7.6 -7.6z"/>
<path d="M1250.9 426.3l7.6 7.6l-7.6 7.6l-7.6 -7.6z"/>
<path d="M1258.3 418.9l7.6 7.6l-7.6 7.6l-7.6 -7.6z"/>
<path d="M1265.7 421.4l7.6 7.6l-7.6 7.6l-7.6 -7.6z"/>
<path d="M1284.2 421.4l7.6 7.6l-7.6 7.6l-7.6 -7.6z"/>
<path d="M1276.8 427.6l7.6 7.6l-7.6 7.6l-7.6 -7.6z"/>
<path d="M1299 418.9l7.6 7.6l-7.6 7.6l-7.6 -7.6z"/>
<path d="M1301.5 426.3l7.6 7.6l-7.6 7.6l-7.6 -7.6z"/>
<path d="M1308.8 432.5l7.6 7.6l-7.6 7.6l-7.6 -7.6z"/>
<path d="M1321.2 418.9l7.6 7.6l-7.6 7.6l-7.6 -7.6z"/>
<path d="M1328.6 415.2l7.6 7.6l-7.6 7.6l-7.6 -7.6z"/>
<path d="M1269.4 434.9l7.6 7.6l-7.6 7.6l-7.6 -7.6z"/>
<path d="M1270.7 438.6l7.6 7.6l-7.6 7.6l-7.6 -7.6z"/>
<path d="M1273.1 442.3l7.6 7.6l-7.6 7.6l-7.6 -7.6z"/>
<path d="M1284.2 436.2l7.6 7.6l-7.6 7.6l-7.6 -7.6z"/>
<path d="M1249.7 443.6l7.6 7.6l-7.6 7.6l-7.6 -7.6z"/>
<path d="M1254.6 451l7.6 7.6l-7.6 7.6l-7.6 -7.6z"/>
<path d="M1303.9 451l7.6 7.6l-7.6 7.6l-7.6 -7.6z"/>
<path d="M1308.8 455.9l7.6 7.6l-7.6 7.6l-7.6 -7.6z"/>
<path d="M1323.6 448.5l7.6 7.6l-7.6 7.6l-7.6 -7.6z"/>
<path d="M1344.6 437.4l7.6 7.6l-7.6 7.6l-7.6 -7.6z"/>
<path d="M1275.6 457.1l7.6 7.6l-7.6 7.6l-7.6 -7.6z"/>
<path d="M1273.1 463.3l7.6 7.6l-7.6 7.6l-7.6 -7.6z"/>
<path d="M1278 465.7l7.6 7.6l-7.6 7.6l-7.6 -7.6z"/>
<path d="M1290.4 467l7.6 7.6l-7.6 7.6l-7.6 -7.6z"/>
<path d="M1345.8 455.9l7.6 7.6l-7.6 7.6l-7.6 -7.6z"/>
<path d="M1362.6 443.2l7.6 7.6l-7.6 7.6l-7.6 -7.6z"/>
<path d="M1351.1 454.6l7.6 7.6l-7.6 7.6l-7.6 -7.6z"/>
<path d="M1359.3 459.6l7.6 7.6l-7.6 7.6l-7.6 -7.6z"/>
<path d="M1351.1 464.5l7.6 7.6l-7.6 7.6l-7.6 -7.6z"/>
<path d="M1242.7 391.4l7.6 7.6l-7.6 7.6l-7.6 -7.6z"/>
<path d="M1249.3 385.7l7.6 7.6l-7.6 7.6l-7.6 -7.6z"/>
<path d="M1265.7 382.4l7.6 7.6l-7.6 7.6l-7.6 -7.6z"/>
<path d="M1262.4 403.7l7.6 7.6l-7.6 7.6l-7.6 -7.6z"/>
<path d="M1305.1 428.4l7.6 7.6l-7.6 7.6l-7.6 -7.6z"/>
<path d="M1313.3 433.3l7.6 7.6l-7.6 7.6l-7.6 -7.6z"/>
<path d="M1298.5 451.4l7.6 7.6l-7.6 7.6l-7.6 -7.6z"/>
<path d="M1310 457.9l7.6 7.6l-7.6 7.6l-7.6 -7.6z"/>
<path d="M1258.6 476l7.6 7.6l-7.6 7.6l-7.6 -7.6z"/>
<path d="M1279.6 467.3l7.6 7.6l-7.6 7.6l-7.6 -7.6z"/>
<path d="M1274.6 473.5l7.6 7.6l-7.6 7.6l-7.6 -7.6z"/>
<path d="M1282 476l7.6 7.6l-7.6 7.6l-7.6 -7.6z"/>
<path d="M1298 482.1l7.6 7.6l-7.6 7.6l-7.6 -7.6z"/>
<path d="M1295.6 478.4l7.6 7.6l-7.6 7.6l-7.6 -7.6z"/>
<path d="M1264.8 493.2l7.6 7.6l-7.6 7.6l-7.6 -7.6z"/>
<path d="M1268.5 495.7l7.6 7.6l-7.6 7.6l-7.6 -7.6z"/>
<path d="M1278.3 488.3l7.6 7.6l-7.6 7.6l-7.6 -7.6z"/>
<path d="M1282 485.8l7.6 7.6l-7.6 7.6l-7.6 -7.6z"/>
<path d="M1323.9 493.8l7.6 7.6l-7.6 7.6l-7.6 -7.6z"/>
<path d="M1257.4 511.7l7.6 7.6l-7.6 7.6l-7.6 -7.6z"/>
<path d="M1261.1 510.4l7.6 7.6l-7.6 7.6l-7.6 -7.6z"/>
<path d="M1257.4 519.1l7.6 7.6l-7.6 7.6l-7.6 -7.6z"/>
<path d="M1252.5 514.1l7.6 7.6l-7.6 7.6l-7.6 -7.6z"/>
<path d="M1274.6 521.5l7.6 7.6l-7.6 7.6l-7.6 -7.6z"/>
<path d="M1277.1 525.2l7.6 7.6l-7.6 7.6l-7.6 -7.6z"/>
<path d="M1261.1 535.1l7.6 7.6l-7.6 7.6l-7.6 -7.6z"/>
<path d="M1272.2 537.6l7.6 7.6l-7.6 7.6l-7.6 -7.6z"/>
<path d="M1273.4 542.5l7.6 7.6l-7.6 7.6l-7.6 -7.6z"/>
<path d="M1320.2 533.2l7.6 7.6l-7.6 7.6l-7.6 -7.6z"/>
<path d="M1289.4 558.5l7.6 7.6l-7.6 7.6l-7.6 -7.6z"/>
<path d="M1300.5 554.2l7.6 7.6l-7.6 7.6l-7.6 -7.6z"/>
<path d="M1336.2 569.6l7.6 7.6l-7.6 7.6l-7.6 -7.6z"/>
<path d="M1358.4 463.6l7.6 7.6l-7.6 7.6l-7.6 -7.6z"/>
<path d="M1306.7 463.6l7.6 7.6l-7.6 7.6l-7.6 -7.6z"/>
<path d="M1246 528.5l7.6 7.6l-7.6 7.6l-7.6 -7.6z"/>
<path d="M1242.7 540.9l7.6 7.6l-7.6 7.6l-7.6 -7.6z"/>
<path d="M1242.7 544.7l7.6 7.6l-7.6 7.6l-7.6 -7.6z"/>
<path d="M1249.3 510.5l7.6 7.6l-7.6 7.6l-7.6 -7.6z"/>
<path d="M1285.4 467.8l7.6 7.6l-7.6 7.6l-7.6 -7.6z"/>
<path d="M1347.8 596.4l7.6 7.6l-7.6 7.6l-7.6 -7.6z"/>
<path d="M1352.7 598.9l7.6 7.6l-7.6 7.6l-7.6 -7.6z"/>
<path d="M1371.8 596.4l7.6 7.6l-7.6 7.6l-7.6 -7.6z"/>
<path d="M1374.9 596.4l7.6 7.6l-7.6 7.6l-7.6 -7.6z"/>
<path d="M1401 596.4l7.6 7.6l-7.6 7.6l-7.6 -7.6z"/>
<path d="M1337.9 625.4l7.6 7.6l-7.6 7.6l-7.6 -7.6z"/>
<path d="M1340.4 626l7.6 7.6l-7.6 7.6l-7.6 -7.6z"/>
<path d="M1355.2 632.8l7.6 7.6l-7.6 7.6l-7.6 -7.6z"/>
<path d="M1313.3 635.2l7.6 7.6l-7.6 7.6l-7.6 -7.6z"/>
<path d="M1317 631.5l7.6 7.6l-7.6 7.6l-7.6 -7.6z"/>
<path d="M1304.6 646.3l7.6 7.6l-7.6 7.6l-7.6 -7.6z"/>
<path d="M1309.6 647.6l7.6 7.6l-7.6 7.6l-7.6 -7.6z"/>
<path d="M1313.3 647.6l7.6 7.6l-7.6 7.6l-7.6 -7.6z"/>
<path d="M1309.6 659.9l7.6 7.6l-7.6 7.6l-7.6 -7.6z"/>
<path d="M1313.3 661.1l7.6 7.6l-7.6 7.6l-7.6 -7.6z"/>
<path d="M1320.7 677.1l7.6 7.6l-7.6 7.6l-7.6 -7.6z"/>
<path d="M1351.5 680.8l7.6 7.6l-7.6 7.6l-7.6 -7.6z"/>
<path d="M1353.9 684.5l7.6 7.6l-7.6 7.6l-7.6 -7.6z"/>
<path d="M1297.2 689.4l7.6 7.6l-7.6 7.6l-7.6 -7.6z"/>
<path d="M1374.9 690.7l7.6 7.6l-7.6 7.6l-7.6 -7.6z"/>
<path d="M1349.1 682.3l7.6 7.6l-7.6 7.6l-7.6 -7.6z"/>
<path d="M1359 691l7.6 7.6l-7.6 7.6l-7.6 -7.6z"/>
<path d="M1375 694.6l7.6 7.6l-7.6 7.6l-7.6 -7.6z"/>
<path d="M1377.5 700.8l7.6 7.6l-7.6 7.6l-7.6 -7.6z"/>
<path d="M1371.3 702l7.6 7.6l-7.6 7.6l-7.6 -7.6z"/>
<path d="M1390.3 700.9l7.6 7.6l-7.6 7.6l-7.6 -7.6z"/>
<path d="M1394.4 711.1l7.6 7.6l-7.6 7.6l-7.6 -7.6z"/>
<path d="M1406.2 723.5l7.6 7.6l-7.6 7.6l-7.6 -7.6z"/>
<path d="M1464.2 709.6l7.6 7.6l-7.6 7.6l-7.6 -7.6z"/>
<path d="M1381 721.4l7.6 7.6l-7.6 7.6l-7.6 -7.6z"/>
<path d="M1304.8 721.8l7.6 7.6l-7.6 7.6l-7.6 -7.6z"/>
<path d="M1320.2 719.3l7.6 7.6l-7.6 7.6l-7.6 -7.6z"/>
<path d="M1336.8 711.9l7.6 7.6l-7.6 7.6l-7.6 -7.6z"/>
<path d="M1340.5 716.8l7.6 7.6l-7.6 7.6l-7.6 -7.6z"/>
<path d="M1339.3 726.7l7.6 7.6l-7.6 7.6l-7.6 -7.6z"/>
<path d="M1351.6 715.6l7.6 7.6l-7.6 7.6l-7.6 -7.6z"/>
<path d="M1356.5 720.5l7.6 7.6l-7.6 7.6l-7.6 -7.6z"/>
<path d="M1355.3 726.7l7.6 7.6l-7.6 7.6l-7.6 -7.6z"/>
<path d="M1359 730.4l7.6 7.6l-7.6 7.6l-7.6 -7.6z"/>
<path d="M1354.1 735.3l7.6 7.6l-7.6 7.6l-7.6 -7.6z"/>
<path d="M1357.8 739l7.6 7.6l-7.6 7.6l-7.6 -7.6z"/>
<path d="M1376.2 721.8l7.6 7.6l-7.6 7.6l-7.6 -7.6z"/>
<path d="M1378.7 724.2l7.6 7.6l-7.6 7.6l-7.6 -7.6z"/>
<path d="M1372.5 719.3l7.6 7.6l-7.6 7.6l-7.6 -7.6z"/>
<path d="M1375 739l7.6 7.6l-7.6 7.6l-7.6 -7.6z"/>
<path d="M1312.2 741.5l7.6 7.6l-7.6 7.6l-7.6 -7.6z"/>
<path d="M1323.3 742.7l7.6 7.6l-7.6 7.6l-7.6 -7.6z"/>
<path d="M1331.9 746.4l7.6 7.6l-7.6 7.6l-7.6 -7.6z"/>
<path d="M1351.6 745.2l7.6 7.6l-7.6 7.6l-7.6 -7.6z"/>
<path d="M1355.3 750.1l7.6 7.6l-7.6 7.6l-7.6 -7.6z"/>
<path d="M1388.6 753.8l7.6 7.6l-7.6 7.6l-7.6 -7.6z"/>
<path d="M1396 751.3l7.6 7.6l-7.6 7.6l-7.6 -7.6z"/>
<path d="M1400.9 757.5l7.6 7.6l-7.6 7.6l-7.6 -7.6z"/>
<path d="M1404.6 763.6l7.6 7.6l-7.6 7.6l-7.6 -7.6z"/>
<path d="M1407 761.2l7.6 7.6l-7.6 7.6l-7.6 -7.6z"/>
<path d="M1401.6 749.1l7.6 7.6l-7.6 7.6l-7.6 -7.6z"/>
<path d="M1422.1 759.4l7.6 7.6l-7.6 7.6l-7.6 -7.6z"/>
<path d="M1426.2 761.4l7.6 7.6l-7.6 7.6l-7.6 -7.6z"/>
<path d="M1350.4 761.2l7.6 7.6l-7.6 7.6l-7.6 -7.6z"/>
<path d="M1363.9 766.1l7.6 7.6l-7.6 7.6l-7.6 -7.6z"/>
<path d="M1370.1 771l7.6 7.6l-7.6 7.6l-7.6 -7.6z"/>
<path d="M1331.9 769.8l7.6 7.6l-7.6 7.6l-7.6 -7.6z"/>
<path d="M1343 780.9l7.6 7.6l-7.6 7.6l-7.6 -7.6z"/>
<path d="M1347.9 783.4l7.6 7.6l-7.6 7.6l-7.6 -7.6z"/>
<path d="M1312.8 788.9l7.6 7.6l-7.6 7.6l-7.6 -7.6z"/>
<path d="M1378.7 789.5l7.6 7.6l-7.6 7.6l-7.6 -7.6z"/>
<path d="M1368.8 793.2l7.6 7.6l-7.6 7.6l-7.6 -7.6z"/>
<path d="M1272.6 703.2l7.6 7.6l-7.6 7.6l-7.6 -7.6z"/>
<path d="M1270.3 710.4l7.6 7.6l-7.6 7.6l-7.6 -7.6z"/>
<path d="M1383 752.4l7.6 7.6l-7.6 7.6l-7.6 -7.6z"/>
<path d="M1386 758.4l7.6 7.6l-7.6 7.6l-7.6 -7.6z"/>
<path d="M1332.8 176l7.6 7.6l-7.6 7.6l-7.6 -7.6z"/>
<path d="M1373.8 164.8l7.6 7.6l-7.6 7.6l-7.6 -7.6z"/>
<path d="M1331.3 170.6l7.6 7.6l-7.6 7.6l-7.6 -7.6z"/>
<path d="M1363.9 185.2l7.6 7.6l-7.6 7.6l-7.6 -7.6z"/>
<path d="M1336.1 157.8l7.6 7.6l-7.6 7.6l-7.6 -7.6z"/>
<path d="M1369.2 177.8l7.6 7.6l-7.6 7.6l-7.6 -7.6z"/>
<path d="M1378.5 181.6l7.6 7.6l-7.6 7.6l-7.6 -7.6z"/>
<path d="M1352.8 167.4l7.6 7.6l-7.6 7.6l-7.6 -7.6z"/>
<path d="M1385.3 169.1l7.6 7.6l-7.6 7.6l-7.6 -7.6z"/>
<path d="M1341.2 157.8l7.6 7.6l-7.6 7.6l-7.6 -7.6z"/>
<path d="M1357.1 173.5l7.6 7.6l-7.6 7.6l-7.6 -7.6z"/>
<path d="M1347.6 170.5l7.6 7.6l-7.6 7.6l-7.6 -7.6z"/>
<path d="M1360.6 181l7.6 7.6l-7.6 7.6l-7.6 -7.6z"/>
<path d="M1375.7 174.1l7.6 7.6l-7.6 7.6l-7.6 -7.6z"/>
<path d="M1328.5 178.4l7.6 7.6l-7.6 7.6l-7.6 -7.6z"/>
<path d="M1339.2 174.3l7.6 7.6l-7.6 7.6l-7.6 -7.6z"/>
<path d="M1369 156.5l7.6 7.6l-7.6 7.6l-7.6 -7.6z"/>
<path d="M1349.1 180.6l7.6 7.6l-7.6 7.6l-7.6 -7.6z"/>
<path d="M1353 176.8l7.6 7.6l-7.6 7.6l-7.6 -7.6z"/>
<path d="M1357 158.2l7.6 7.6l-7.6 7.6l-7.6 -7.6z"/>
<path d="M1366 160.7l7.6 7.6l-7.6 7.6l-7.6 -7.6z"/>
<path d="M1382.5 166.4l7.6 7.6l-7.6 7.6l-7.6 -7.6z"/>
<path d="M1369.2 171.4l7.6 7.6l-7.6 7.6l-7.6 -7.6z"/>
<path d="M1374.4 169.8l7.6 7.6l-7.6 7.6l-7.6 -7.6z"/>
<path d="M1377.1 178.8l7.6 7.6l-7.6 7.6l-7.6 -7.6z"/>
<path d="M1357.9 160.7l7.6 7.6l-7.6 7.6l-7.6 -7.6z"/>
<path d="M1366.3 178.4l7.6 7.6l-7.6 7.6l-7.6 -7.6z"/>
<path d="M1361.1 174.4l7.6 7.6l-7.6 7.6l-7.6 -7.6z"/>
<path d="M1358.8 162.9l7.6 7.6l-7.6 7.6l-7.6 -7.6z"/>
<path d="M1335.7 166.3l7.6 7.6l-7.6 7.6l-7.6 -7.6z"/>
<path d="M1364.7 188.1l7.6 7.6l-7.6 7.6l-7.6 -7.6z"/>
<path d="M1371.9 183.8l7.6 7.6l-7.6 7.6l-7.6 -7.6z"/>
<path d="M1370 180.5l7.6 7.6l-7.6 7.6l-7.6 -7.6z"/>
<path d="M1345.3 190l7.6 7.6l-7.6 7.6l-7.6 -7.6z"/>
<path d="M1359.8 184.2l7.6 7.6l-7.6 7.6l-7.6 -7.6z"/>
<path d="M1379.9 183.7l7.6 7.6l-7.6 7.6l-7.6 -7.6z"/>
<path d="M1375 180l7.6 7.6l-7.6 7.6l-7.6 -7.6z"/>
<path d="M1356.1 187.7l7.6 7.6l-7.6 7.6l-7.6 -7.6z"/>
<path d="M1340.6 181.6l7.6 7.6l-7.6 7.6l-7.6 -7.6z"/>
<path d="M1375.9 167.7l7.6 7.6l-7.6 7.6l-7.6 -7.6z"/>
<path d="M1329.3 162.6l7.6 7.6l-7.6 7.6l-7.6 -7.6z"/>
<path d="M1378.5 161.1l7.6 7.6l-7.6 7.6l-7.6 -7.6z"/>
<path d="M1355 180.5l7.6 7.6l-7.6 7.6l-7.6 -7.6z"/>
<path d="M1353 151.1l7.6 7.6l-7.6 7.6l-7.6 -7.6z"/>
<path d="M1365 190.7l7.6 7.6l-7.6 7.6l-7.6 -7.6z"/>
<path d="M1372.8 160.4l7.6 7.6l-7.6 7.6l-7.6 -7.6z"/>
<path d="M1346.2 174.6l7.6 7.6l-7.6 7.6l-7.6 -7.6z"/>
<path d="M1384.5 176.4l7.6 7.6l-7.6 7.6l-7.6 -7.6z"/>
<path d="M1353.8 190.4l7.6 7.6l-7.6 7.6l-7.6 -7.6z"/>
<path d="M1341.2 164.9l7.6 7.6l-7.6 7.6l-7.6 -7.6z"/>
<path d="M1366.9 187.3l7.6 7.6l-7.6 7.6l-7.6 -7.6z"/>
<path d="M1368.5 175.6l7.6 7.6l-7.6 7.6l-7.6 -7.6z"/>
<path d="M1367.2 166.7l7.6 7.6l-7.6 7.6l-7.6 -7.6z"/>
<path d="M1363.4 182.8l7.6 7.6l-7.6 7.6l-7.6 -7.6z"/>
<path d="M1344.9 168.1l7.6 7.6l-7.6 7.6l-7.6 -7.6z"/>
<path d="M1336 186.5l7.6 7.6l-7.6 7.6l-7.6 -7.6z"/>
<path d="M1379.9 169.3l7.6 7.6l-7.6 7.6l-7.6 -7.6z"/>
<path d="M1346.4 156.4l7.6 7.6l-7.6 7.6l-7.6 -7.6z"/>
<path d="M1384.4 173.6l7.6 7.6l-7.6 7.6l-7.6 -7.6z"/>
<path d="M1345.8 151.8l7.6 7.6l-7.6 7.6l-7.6 -7.6z"/>
<path d="M1379.5 173.6l7.6 7.6l-7.6 7.6l-7.6 -7.6z"/>
<path d="M1328.7 173.4l7.6 7.6l-7.6 7.6l-7.6 -7.6z"/>
<path d="M1342 190.5l7.6 7.6l-7.6 7.6l-7.6 -7.6z"/>
<path d="M1352.9 153.8l7.6 7.6l-7.6 7.6l-7.6 -7.6z"/>
<path d="M1363 152.1l7.6 7.6l-7.6 7.6l-7.6 -7.6z"/>
<path d="M1339.7 185.3l7.6 7.6l-7.6 7.6l-7.6 -7.6z"/>
<path d="M1331.1 180.7l7.6 7.6l-7.6 7.6l-7.6 -7.6z"/>
<path d="M1370.3 159.4l7.6 7.6l-7.6 7.6l-7.6 -7.6z"/>
<path d="M1341.4 162.2l7.6 7.6l-7.6 7.6l-7.6 -7.6z"/>
<path d="M1334 163.3l7.6 7.6l-7.6 7.6l-7.6 -7.6z"/>
<path d="M1352.4 158.4l7.6 7.6l-7.6 7.6l-7.6 -7.6z"/>
<path d="M1364.2 176.3l7.6 7.6l-7.6 7.6l-7.6 -7.6z"/>
<path d="M1364.4 173.7l7.6 7.6l-7.6 7.6l-7.6 -7.6z"/>
<path d="M1349.6 166.4l7.6 7.6l-7.6 7.6l-7.6 -7.6z"/>
<path d="M1352.9 173.4l7.6 7.6l-7.6 7.6l-7.6 -7.6z"/>
<path d="M1363.1 168.3l7.6 7.6l-7.6 7.6l-7.6 -7.6z"/>
<path d="M1347.3 178.9l7.6 7.6l-7.6 7.6l-7.6 -7.6z"/>
<path d="M1356.1 178l7.6 7.6l-7.6 7.6l-7.6 -7.6z"/>
<path d="M1359.8 168.6l7.6 7.6l-7.6 7.6l-7.6 -7.6z"/>
<path d="M1359.9 177.2l7.6 7.6l-7.6 7.6l-7.6 -7.6z"/>
<path d="M1360.2 165.3l7.6 7.6l-7.6 7.6l-7.6 -7.6z"/>
<path d="M1349.5 163.9l7.6 7.6l-7.6 7.6l-7.6 -7.6z"/>
<path d="M1279.2 305.7l7.6 7.6l-7.6 7.6l-7.6 -7.6z"/>
<path d="M1274 302.5l7.6 7.6l-7.6 7.6l-7.6 -7.6z"/>
<path d="M1281.7 308.6l7.6 7.6l-7.6 7.6l-7.6 -7.6z"/>
<path d="M1274.1 293.9l7.6 7.6l-7.6 7.6l-7.6 -7.6z"/>
<path d="M1275.6 311.3l7.6 7.6l-7.6 7.6l-7.6 -7.6z"/>
<path d="M1288 299.4l7.6 7.6l-7.6 7.6l-7.6 -7.6z"/>
<path d="M1281.9 301.4l7.6 7.6l-7.6 7.6l-7.6 -7.6z"/>
<path d="M1281.7 298.5l7.6 7.6l-7.6 7.6l-7.6 -7.6z"/>
<path d="M1277.7 290.9l7.6 7.6l-7.6 7.6l-7.6 -7.6z"/>
<path d="M1284.4 301l7.6 7.6l-7.6 7.6l-7.6 -7.6z"/>
<path d="M1278.2 301l7.6 7.6l-7.6 7.6l-7.6 -7.6z"/>
<path d="M1282.8 294.8l7.6 7.6l-7.6 7.6l-7.6 -7.6z"/>
<path d="M1284.1 288.5l7.6 7.6l-7.6 7.6l-7.6 -7.6z"/>
<path d="M1277.9 295.1l7.6 7.6l-7.6 7.6l-7.6 -7.6z"/>
<path d="M1251.2 322.3l7.6 7.6l-7.6 7.6l-7.6 -7.6z"/>
<path d="M1245.5 316.5l7.6 7.6l-7.6 7.6l-7.6 -7.6z"/>
<path d="M1350.4 312.1l7.6 7.6l-7.6 7.6l-7.6 -7.6z"/>
<path d="M1362.2 309.4l7.6 7.6l-7.6 7.6l-7.6 -7.6z"/>
<path d="M1336.7 688.7l7.6 7.6l-7.6 7.6l-7.6 -7.6z"/>
<path d="M1336.5 691l7.6 7.6l-7.6 7.6l-7.6 -7.6z"/>
<path d="M1320.3 690.2l7.6 7.6l-7.6 7.6l-7.6 -7.6z"/>
<path d="M1322.1 687.1l7.6 7.6l-7.6 7.6l-7.6 -7.6z"/>
<path d="M1315.4 688.5l7.6 7.6l-7.6 7.6l-7.6 -7.6z"/>
<path d="M1328.9 697.9l7.6 7.6l-7.6 7.6l-7.6 -7.6z"/>
<path d="M1342.7 691.7l7.6 7.6l-7.6 7.6l-7.6 -7.6z"/>
<path d="M1309.4 691.2l7.6 7.6l-7.6 7.6l-7.6 -7.6z"/>
<path d="M1317.7 697.6l7.6 7.6l-7.6 7.6l-7.6 -7.6z"/>
<path d="M1331.6 689.6l7.6 7.6l-7.6 7.6l-7.6 -7.6z"/>
<path d="M1335.4 694.4l7.6 7.6l-7.6 7.6l-7.6 -7.6z"/>
<path d="M1322 692.5l7.6 7.6l-7.6 7.6l-7.6 -7.6z"/>
<path d="M1326.7 691l7.6 7.6l-7.6 7.6l-7.6 -7.6z"/>
<path d="M1329.4 694.2l7.6 7.6l-7.6 7.6l-7.6 -7.6z"/>
<path d="M1330 691.8l7.6 7.6l-7.6 7.6l-7.6 -7.6z"/>
<path d="M1372.1 759.4l7.6 7.6l-7.6 7.6l-7.6 -7.6z"/>
<path d="M1369.8 751.1l7.6 7.6l-7.6 7.6l-7.6 -7.6z"/>
<path d="M1377.7 750.7l7.6 7.6l-7.6 7.6l-7.6 -7.6z"/>
<path d="M1376.2 759.7l7.6 7.6l-7.6 7.6l-7.6 -7.6z"/>
<path d="M1380.4 753.5l7.6 7.6l-7.6 7.6l-7.6 -7.6z"/>
<path d="M1370.4 753.2l7.6 7.6l-7.6 7.6l-7.6 -7.6z"/>
<path d="M1367.8 753.4l7.6 7.6l-7.6 7.6l-7.6 -7.6z"/>
<path d="M1372.8 753.8l7.6 7.6l-7.6 7.6l-7.6 -7.6z"/>
<path d="M1366.3 782.7l7.6 7.6l-7.6 7.6l-7.6 -7.6z"/>
<path d="M1353.5 786l7.6 7.6l-7.6 7.6l-7.6 -7.6z"/>
<path d="M1354.2 782.1l7.6 7.6l-7.6 7.6l-7.6 -7.6z"/>
<path d="M1359.2 782.2l7.6 7.6l-7.6 7.6l-7.6 -7.6z"/>
<path d="M1359.3 786.8l7.6 7.6l-7.6 7.6l-7.6 -7.6z"/>
<path d="M1364.1 785.8l7.6 7.6l-7.6 7.6l-7.6 -7.6z"/>
<path d="M1363.4 779.1l7.6 7.6l-7.6 7.6l-7.6 -7.6z"/>
<path d="M1311.7 301.3l7.6 7.6l-7.6 7.6l-7.6 -7.6z"/>
<path d="M1311.9 297.7l7.6 7.6l-7.6 7.6l-7.6 -7.6z"/>
<path d="M1318 278.6l7.6 7.6l-7.6 7.6l-7.6 -7.6z"/>
<path d="M1314.1 275.8l7.6 7.6l-7.6 7.6l-7.6 -7.6z"/>
</g>
<path d="M1358.6 153.6 L1364.1 159.7 L1362.3 166.5 L1357.3 173.3 L1351.2 181.9 L1346.2 190.5 L1341.3 197.9 L1335.2 205.3 L1327.8 212.7 L1319.1 220.1 L1311.7 226.2 L1305.6 233.6 L1300.7 241 L1297 248.4 L1294.7 257.4 L1292.8 263.6 L1294.1 272.2 L1295.9 282 L1297.1 291.9 L1297.1 300.5 L1294.7 307.9 L1290.4 315.3 L1284.2 322.7 L1278 328.8 L1273.1 336.2 L1270 346.1 L1271.9 356 L1275 364.6 L1276.8 369.9 L1280.5 380.9 L1284.2 393.3 L1287.9 406.8 L1291 419.1 L1292.8 431.5 L1292.8 443.8 L1291.6 456.1 L1290.4 468.4 L1289.2 482.3 L1288.8 494.6 L1289.4 507 L1291.3 521.7 L1295.6 531.6 L1300.5 542.7 L1306.7 553.8 L1312.8 563.6 L1318.5 573.5 L1322 580 L1325 586.5 L1329.5 595 L1334.2 609.6 L1333 620.7 L1329.3 631.7 L1326.2 641.6 L1323.7 651.5 L1322.5 661.3 L1322.5 671.2 L1325.6 679.8 L1331.7 687.2 L1341.7 697.3 L1350.4 704.7 L1359 710.9 L1365.2 717 L1367.6 725.7 L1367.6 734.3 L1365.8 742.9 L1362.7 751.5 L1359.6 760.2 L1357.1 768.8 L1355.3 777.4 L1354.7 784.8" fill="none" stroke="#474747" stroke-opacity="0.62" stroke-width="4.9" stroke-linejoin="round" stroke-linecap="round"/>
<path d="M1200.2 122 V851.8 H1471.6 V122 Z" fill="none" stroke="#000" stroke-width="2.2"/>
<line x1="1200.2" y1="151.2" x2="1203.8" y2="151.2" stroke="#000" stroke-width="2"/>
<line x1="1471.6" y1="151.2" x2="1468" y2="151.2" stroke="#000" stroke-width="2"/>
<line x1="1200.2" y1="180.4" x2="1203.8" y2="180.4" stroke="#000" stroke-width="2"/>
<line x1="1471.6" y1="180.4" x2="1468" y2="180.4" stroke="#000" stroke-width="2"/>
<line x1="1200.2" y1="209.6" x2="1203.8" y2="209.6" stroke="#000" stroke-width="2"/>
<line x1="1471.6" y1="209.6" x2="1468" y2="209.6" stroke="#000" stroke-width="2"/>
<line x1="1200.2" y1="238.8" x2="1203.8" y2="238.8" stroke="#000" stroke-width="2"/>
<line x1="1471.6" y1="238.8" x2="1468" y2="238.8" stroke="#000" stroke-width="2"/>
<line x1="1200.2" y1="268" x2="1207.4" y2="268" stroke="#000" stroke-width="2"/>
<line x1="1471.6" y1="268" x2="1464.4" y2="268" stroke="#000" stroke-width="2"/>
<line x1="1200.2" y1="297.2" x2="1203.8" y2="297.2" stroke="#000" stroke-width="2"/>
<line x1="1471.6" y1="297.2" x2="1468" y2="297.2" stroke="#000" stroke-width="2"/>
<line x1="1200.2" y1="326.4" x2="1203.8" y2="326.4" stroke="#000" stroke-width="2"/>
<line x1="1471.6" y1="326.4" x2="1468" y2="326.4" stroke="#000" stroke-width="2"/>
<line x1="1200.2" y1="355.6" x2="1203.8" y2="355.6" stroke="#000" stroke-width="2"/>
<line x1="1471.6" y1="355.6" x2="1468" y2="355.6" stroke="#000" stroke-width="2"/>
<line x1="1200.2" y1="384.8" x2="1203.8" y2="384.8" stroke="#000" stroke-width="2"/>
<line x1="1471.6" y1="384.8" x2="1468" y2="384.8" stroke="#000" stroke-width="2"/>
<line x1="1200.2" y1="414" x2="1207.4" y2="414" stroke="#000" stroke-width="2"/>
<line x1="1471.6" y1="414" x2="1464.4" y2="414" stroke="#000" stroke-width="2"/>
<line x1="1200.2" y1="443.2" x2="1203.8" y2="443.2" stroke="#000" stroke-width="2"/>
<line x1="1471.6" y1="443.2" x2="1468" y2="443.2" stroke="#000" stroke-width="2"/>
<line x1="1200.2" y1="472.4" x2="1203.8" y2="472.4" stroke="#000" stroke-width="2"/>
<line x1="1471.6" y1="472.4" x2="1468" y2="472.4" stroke="#000" stroke-width="2"/>
<line x1="1200.2" y1="501.6" x2="1203.8" y2="501.6" stroke="#000" stroke-width="2"/>
<line x1="1471.6" y1="501.6" x2="1468" y2="501.6" stroke="#000" stroke-width="2"/>
<line x1="1200.2" y1="530.8" x2="1203.8" y2="530.8" stroke="#000" stroke-width="2"/>
<line x1="1471.6" y1="530.8" x2="1468" y2="530.8" stroke="#000" stroke-width="2"/>
<line x1="1200.2" y1="560" x2="1207.4" y2="560" stroke="#000" stroke-width="2"/>
<line x1="1471.6" y1="560" x2="1464.4" y2="560" stroke="#000" stroke-width="2"/>
<line x1="1200.2" y1="589.2" x2="1203.8" y2="589.2" stroke="#000" stroke-width="2"/>
<line x1="1471.6" y1="589.2" x2="1468" y2="589.2" stroke="#000" stroke-width="2"/>
<line x1="1200.2" y1="618.4" x2="1203.8" y2="618.4" stroke="#000" stroke-width="2"/>
<line x1="1471.6" y1="618.4" x2="1468" y2="618.4" stroke="#000" stroke-width="2"/>
<line x1="1200.2" y1="647.6" x2="1203.8" y2="647.6" stroke="#000" stroke-width="2"/>
<line x1="1471.6" y1="647.6" x2="1468" y2="647.6" stroke="#000" stroke-width="2"/>
<line x1="1200.2" y1="676.8" x2="1203.8" y2="676.8" stroke="#000" stroke-width="2"/>
<line x1="1471.6" y1="676.8" x2="1468" y2="676.8" stroke="#000" stroke-width="2"/>
<line x1="1200.2" y1="706" x2="1207.4" y2="706" stroke="#000" stroke-width="2"/>
<line x1="1471.6" y1="706" x2="1464.4" y2="706" stroke="#000" stroke-width="2"/>
<line x1="1200.2" y1="735.2" x2="1203.8" y2="735.2" stroke="#000" stroke-width="2"/>
<line x1="1471.6" y1="735.2" x2="1468" y2="735.2" stroke="#000" stroke-width="2"/>
<line x1="1200.2" y1="764.4" x2="1203.8" y2="764.4" stroke="#000" stroke-width="2"/>
<line x1="1471.6" y1="764.4" x2="1468" y2="764.4" stroke="#000" stroke-width="2"/>
<line x1="1200.2" y1="793.6" x2="1203.8" y2="793.6" stroke="#000" stroke-width="2"/>
<line x1="1471.6" y1="793.6" x2="1468" y2="793.6" stroke="#000" stroke-width="2"/>
<line x1="1200.2" y1="822.8" x2="1203.8" y2="822.8" stroke="#000" stroke-width="2"/>
<line x1="1471.6" y1="822.8" x2="1468" y2="822.8" stroke="#000" stroke-width="2"/>
<line x1="1239.1" y1="122" x2="1239.1" y2="125.8" stroke="#000" stroke-width="2"/>
<line x1="1239.1" y1="851.8" x2="1239.1" y2="848" stroke="#000" stroke-width="2"/>
<line x1="1277.9" y1="122" x2="1277.9" y2="129" stroke="#000" stroke-width="2"/>
<line x1="1277.9" y1="851.8" x2="1277.9" y2="844.8" stroke="#000" stroke-width="2"/>
<line x1="1316.8" y1="122" x2="1316.8" y2="125.8" stroke="#000" stroke-width="2"/>
<line x1="1316.8" y1="851.8" x2="1316.8" y2="848" stroke="#000" stroke-width="2"/>
<line x1="1355.7" y1="122" x2="1355.7" y2="129" stroke="#000" stroke-width="2"/>
<line x1="1355.7" y1="851.8" x2="1355.7" y2="844.8" stroke="#000" stroke-width="2"/>
<line x1="1394.5" y1="122" x2="1394.5" y2="125.8" stroke="#000" stroke-width="2"/>
<line x1="1394.5" y1="851.8" x2="1394.5" y2="848" stroke="#000" stroke-width="2"/>
<line x1="1433.4" y1="122" x2="1433.4" y2="129" stroke="#000" stroke-width="2"/>
<line x1="1433.4" y1="851.8" x2="1433.4" y2="844.8" stroke="#000" stroke-width="2"/>
<text transform="translate(1199.7 884.5) scale(1 1.07)" font-size="32" text-anchor="middle">22</text>
<text transform="translate(1277.2 884.5) scale(1 1.07)" font-size="32" text-anchor="middle">20</text>
<text transform="translate(1355.6 884.5) scale(1 1.07)" font-size="32" text-anchor="middle">18</text>
<text transform="translate(1434.6 884.5) scale(1 1.07)" font-size="32" text-anchor="middle">16</text>
<text x="1508.6" y="131.9" font-size="32" text-anchor="middle">370</text>
<text x="1508.6" y="277.9" font-size="32" text-anchor="middle">380</text>
<text x="1508.6" y="423.9" font-size="32" text-anchor="middle">390</text>
<text x="1508.6" y="569.9" font-size="32" text-anchor="middle">400</text>
<text x="1508.6" y="715.9" font-size="32" text-anchor="middle">410</text>
<text x="1508.6" y="861.9" font-size="32" text-anchor="middle">420</text>
<text transform="translate(1243.1 717.5) rotate(-90)" font-size="22" text-anchor="middle" textLength="232" lengthAdjust="spacingAndGlyphs">Joachimski et al. (2009)</text>
<text x="1336.2" y="947.8" font-size="42" text-anchor="middle" textLength="364" lengthAdjust="spacingAndGlyphs">δ<tspan font-size="24" dy="-16">18</tspan><tspan dy="16">O (‰ V-SMOW)</tspan></text>
</svg>
</body></html>
